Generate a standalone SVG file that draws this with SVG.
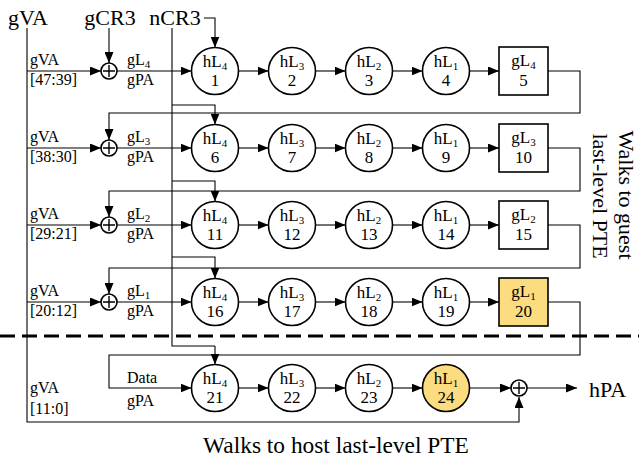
<svg xmlns="http://www.w3.org/2000/svg" width="639" height="459" viewBox="0 0 639 459">
<style>
text{font-family:"Liberation Serif","Times New Roman",serif;fill:#000}
.big{font-size:22px}
.lbl{font-size:16px}
.nt{font-size:17px;text-anchor:middle}
.sub{font-size:11px}
.c{fill:#fff;stroke:#000;stroke-width:1.6}
.b{fill:#fff;stroke:#000;stroke-width:1.6}
.y{fill:#FBDC7E}
.ln{fill:none;stroke:#000;stroke-width:1.1}
.ar{marker-end:url(#ah)}
.pl{fill:#fff;stroke:#000;stroke-width:1.6}
.px{stroke:#000;stroke-width:1.4}
</style>
<defs>
<marker id="ah" markerUnits="userSpaceOnUse" markerWidth="11" markerHeight="9" refX="11" refY="4.5" orient="auto">
<path d="M0,0 L11,4.5 L0,9 z" fill="#000"/>
</marker>
</defs>

<!-- top labels -->
<text class="big" x="28" y="25" text-anchor="middle">gVA</text>
<text class="big" x="110" y="25" text-anchor="middle">gCR3</text>
<text class="big" x="175" y="25" text-anchor="middle">nCR3</text>

<!-- connectors -->
<g id="connectors">
<!-- gVA main -->
<path class="ln" d="M27,28 V422 H519 V397" marker-end="url(#ah)"/>
<!-- gCR3 -->
<path class="ln ar" d="M109,28 V63"/>
<!-- nCR3 -->
<path class="ln ar" d="M204,18 H215 V47.5"/>
<path class="ln" d="M172,28 V346 H215"/>
<path class="ln ar" d="M172,105 H215 V124.5"/>
<path class="ln ar" d="M172,181 H215 V201.5"/>
<path class="ln ar" d="M172,257 H215 V278.5"/>
<path class="ln ar" d="M215,346 V364.5"/>
<!-- row inputs -->
<path class="ln ar" d="M27,71 H101"/>
<path class="ln ar" d="M27,148 H101"/>
<path class="ln ar" d="M27,225 H101"/>
<path class="ln ar" d="M27,302 H101"/>
<path class="ln ar" d="M117,71 H191.5"/>
<path class="ln ar" d="M117,148 H191.5"/>
<path class="ln ar" d="M117,225 H191.5"/>
<path class="ln ar" d="M117,302 H191.5"/>
<!-- chains -->
<path class="ln ar" d="M238.5,71 H268.5"/><path class="ln ar" d="M315.5,71 H345.5"/><path class="ln ar" d="M392.5,71 H422.5"/><path class="ln ar" d="M469.5,71 H499"/>
<path class="ln ar" d="M238.5,148 H268.5"/><path class="ln ar" d="M315.5,148 H345.5"/><path class="ln ar" d="M392.5,148 H422.5"/><path class="ln ar" d="M469.5,148 H499"/>
<path class="ln ar" d="M238.5,225 H268.5"/><path class="ln ar" d="M315.5,225 H345.5"/><path class="ln ar" d="M392.5,225 H422.5"/><path class="ln ar" d="M469.5,225 H499"/>
<path class="ln ar" d="M238.5,302 H268.5"/><path class="ln ar" d="M315.5,302 H345.5"/><path class="ln ar" d="M392.5,302 H422.5"/><path class="ln ar" d="M469.5,302 H499"/>
<path class="ln ar" d="M238.5,388 H268.5"/><path class="ln ar" d="M315.5,388 H345.5"/><path class="ln ar" d="M392.5,388 H422.5"/><path class="ln ar" d="M469.5,388 H511"/>
<!-- loops -->
<path class="ln ar" d="M548,71 H580 V113 H109 V140"/>
<path class="ln ar" d="M548,148 H580 V191 H109 V217"/>
<path class="ln ar" d="M548,225 H580 V268 H109 V294"/>
<path class="ln ar" d="M548,302 H580 V355 H109 V388 H191.5"/>
<!-- output -->
<path class="ln ar" d="M527,388 H577"/>
</g>

<!-- dashed separator -->
<line x1="0" y1="336" x2="639" y2="336" stroke="#000" stroke-width="2.8" stroke-dasharray="15 7"/>

<!-- adders -->
<g id="add1"><circle class="pl" cx="109" cy="71" r="8"/><path class="px" d="M103,71 H115 M109,65 V77"/></g>
<g id="add2"><circle class="pl" cx="109" cy="148" r="8"/><path class="px" d="M103,148 H115 M109,142 V154"/></g>
<g id="add3"><circle class="pl" cx="109" cy="225" r="8"/><path class="px" d="M103,225 H115 M109,219 V231"/></g>
<g id="add4"><circle class="pl" cx="109" cy="302" r="8"/><path class="px" d="M103,302 H115 M109,296 V308"/></g>
<g id="add5"><circle class="pl" cx="519" cy="388" r="8"/><path class="px" d="M513,388 H525 M519,382 V394"/></g>

<!-- row labels -->
<g class="lbl">
<text class="lbl" x="30" y="65">gVA</text><text class="lbl" x="30" y="85">[47:39]</text>
<text class="lbl" x="30" y="142">gVA</text><text class="lbl" x="30" y="162">[38:30]</text>
<text class="lbl" x="30" y="219">gVA</text><text class="lbl" x="30" y="239">[29:21]</text>
<text class="lbl" x="30" y="296">gVA</text><text class="lbl" x="30" y="316">[20:12]</text>
<text class="lbl" x="30" y="393">gVA</text><text class="lbl" x="30" y="414">[11:0]</text>
<text class="lbl" x="127" y="65">gL<tspan class="sub" dy="3">4</tspan></text><text class="lbl" x="127" y="85">gPA</text>
<text class="lbl" x="127" y="142">gL<tspan class="sub" dy="3">3</tspan></text><text class="lbl" x="127" y="162">gPA</text>
<text class="lbl" x="127" y="219">gL<tspan class="sub" dy="3">2</tspan></text><text class="lbl" x="127" y="239">gPA</text>
<text class="lbl" x="127" y="296">gL<tspan class="sub" dy="3">1</tspan></text><text class="lbl" x="127" y="316">gPA</text>
<text class="lbl" x="127" y="383">Data</text><text class="lbl" x="127" y="406">gPA</text>
</g>

<!-- row 1 -->
<g id="n1"><circle class="c" cx="215" cy="71" r="23.5"/><text class="nt" x="215" y="67">hL<tspan class="sub" dy="3">4</tspan></text><text class="nt" x="215" y="86">1</text></g>
<g id="n2"><circle class="c" cx="292" cy="71" r="23.5"/><text class="nt" x="292" y="67">hL<tspan class="sub" dy="3">3</tspan></text><text class="nt" x="292" y="86">2</text></g>
<g id="n3"><circle class="c" cx="369" cy="71" r="23.5"/><text class="nt" x="369" y="67">hL<tspan class="sub" dy="3">2</tspan></text><text class="nt" x="369" y="86">3</text></g>
<g id="n4"><circle class="c" cx="446" cy="71" r="23.5"/><text class="nt" x="446" y="67">hL<tspan class="sub" dy="3">1</tspan></text><text class="nt" x="446" y="86">4</text></g>
<g id="n5"><rect class="b" x="499" y="47" width="49" height="48"/><text class="nt" x="523.5" y="66">gL<tspan class="sub" dy="3">4</tspan></text><text class="nt" x="523.5" y="86">5</text></g>
<!-- row 2 -->
<g id="n6"><circle class="c" cx="215" cy="148" r="23.5"/><text class="nt" x="215" y="144">hL<tspan class="sub" dy="3">4</tspan></text><text class="nt" x="215" y="163">6</text></g>
<g id="n7"><circle class="c" cx="292" cy="148" r="23.5"/><text class="nt" x="292" y="144">hL<tspan class="sub" dy="3">3</tspan></text><text class="nt" x="292" y="163">7</text></g>
<g id="n8"><circle class="c" cx="369" cy="148" r="23.5"/><text class="nt" x="369" y="144">hL<tspan class="sub" dy="3">2</tspan></text><text class="nt" x="369" y="163">8</text></g>
<g id="n9"><circle class="c" cx="446" cy="148" r="23.5"/><text class="nt" x="446" y="144">hL<tspan class="sub" dy="3">1</tspan></text><text class="nt" x="446" y="163">9</text></g>
<g id="n10"><rect class="b" x="499" y="124" width="49" height="48"/><text class="nt" x="523.5" y="143">gL<tspan class="sub" dy="3">3</tspan></text><text class="nt" x="523.5" y="163">10</text></g>
<!-- row 3 -->
<g id="n11"><circle class="c" cx="215" cy="225" r="23.5"/><text class="nt" x="215" y="221">hL<tspan class="sub" dy="3">4</tspan></text><text class="nt" x="215" y="240">11</text></g>
<g id="n12"><circle class="c" cx="292" cy="225" r="23.5"/><text class="nt" x="292" y="221">hL<tspan class="sub" dy="3">3</tspan></text><text class="nt" x="292" y="240">12</text></g>
<g id="n13"><circle class="c" cx="369" cy="225" r="23.5"/><text class="nt" x="369" y="221">hL<tspan class="sub" dy="3">2</tspan></text><text class="nt" x="369" y="240">13</text></g>
<g id="n14"><circle class="c" cx="446" cy="225" r="23.5"/><text class="nt" x="446" y="221">hL<tspan class="sub" dy="3">1</tspan></text><text class="nt" x="446" y="240">14</text></g>
<g id="n15"><rect class="b" x="499" y="201" width="49" height="48"/><text class="nt" x="523.5" y="220">gL<tspan class="sub" dy="3">2</tspan></text><text class="nt" x="523.5" y="240">15</text></g>
<!-- row 4 -->
<g id="n16"><circle class="c" cx="215" cy="302" r="23.5"/><text class="nt" x="215" y="298">hL<tspan class="sub" dy="3">4</tspan></text><text class="nt" x="215" y="317">16</text></g>
<g id="n17"><circle class="c" cx="292" cy="302" r="23.5"/><text class="nt" x="292" y="298">hL<tspan class="sub" dy="3">3</tspan></text><text class="nt" x="292" y="317">17</text></g>
<g id="n18"><circle class="c" cx="369" cy="302" r="23.5"/><text class="nt" x="369" y="298">hL<tspan class="sub" dy="3">2</tspan></text><text class="nt" x="369" y="317">18</text></g>
<g id="n19"><circle class="c" cx="446" cy="302" r="23.5"/><text class="nt" x="446" y="298">hL<tspan class="sub" dy="3">1</tspan></text><text class="nt" x="446" y="317">19</text></g>
<g id="n20"><rect class="b y" x="499" y="278" width="49" height="48"/><text class="nt" x="523.5" y="297">gL<tspan class="sub" dy="3">1</tspan></text><text class="nt" x="523.5" y="317">20</text></g>
<!-- row 5 -->
<g id="n21"><circle class="c" cx="215" cy="388" r="23.5"/><text class="nt" x="215" y="384">hL<tspan class="sub" dy="3">4</tspan></text><text class="nt" x="215" y="403">21</text></g>
<g id="n22"><circle class="c" cx="292" cy="388" r="23.5"/><text class="nt" x="292" y="384">hL<tspan class="sub" dy="3">3</tspan></text><text class="nt" x="292" y="403">22</text></g>
<g id="n23"><circle class="c" cx="369" cy="388" r="23.5"/><text class="nt" x="369" y="384">hL<tspan class="sub" dy="3">2</tspan></text><text class="nt" x="369" y="403">23</text></g>
<g id="n24"><circle class="c y" cx="446" cy="388" r="23.5"/><text class="nt" x="446" y="384">hL<tspan class="sub" dy="3">1</tspan></text><text class="nt" x="446" y="403">24</text></g>

<!-- output + captions -->
<text class="big" x="589" y="397">hPA</text>
<text class="big" x="336" y="453" text-anchor="middle" style="font-size:23.4px">Walks to host last-level PTE</text>
<text class="big" transform="translate(619,195) rotate(90)" text-anchor="middle">Walks to guest</text>
<text class="big" transform="translate(593,196) rotate(90)" text-anchor="middle">last-level PTE</text>
</svg>
